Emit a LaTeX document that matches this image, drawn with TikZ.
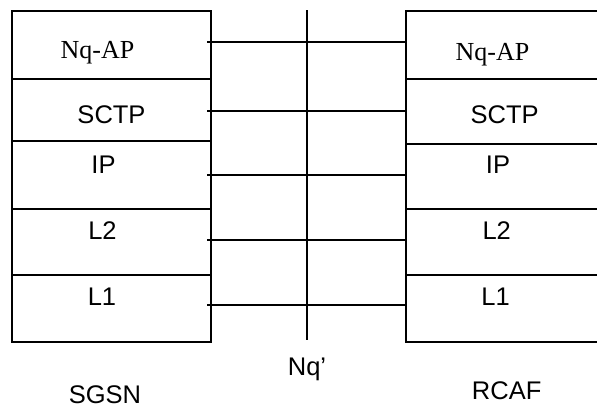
\documentclass[tikz,border=0pt]{standalone}
\usepackage{fontspec}
\setmainfont{Liberation Sans}
\newfontfamily\serifface{Liberation Serif}
\begin{document}
\begin{tikzpicture}[x=1pt,y=-1pt,
  cell/.style={draw,line width=2pt,rectangle,inner sep=0pt},
  lab/.style={anchor=base,inner sep=0pt,font=\fontsize{25.5}{30}\selectfont},
  slab/.style={anchor=base,inner sep=0pt,font=\serifface\fontsize{26}{30}\selectfont},
  link/.style={line width=1.6pt}]
\useasboundingbox (0,0) rectangle (597,408);
\fill[white] (0,0) rectangle (597,408);
% left stack (SGSN)
\node[cell,minimum width=199pt,minimum height=68pt] (lap) at (111.5,45) {};
\node[cell,minimum width=199pt,minimum height=62pt] (lsctp) at (111.5,110) {};
\node[cell,minimum width=199pt,minimum height=68pt] (lip) at (111.5,175) {};
\node[cell,minimum width=199pt,minimum height=66pt] (ll2) at (111.5,242) {};
\node[cell,minimum width=199pt,minimum height=67pt] (ll1) at (111.5,308.5) {};
% right stack (RCAF), right edge beyond the page
\node[cell,minimum width=196pt,minimum height=68pt] (rap) at (504,45) {};
\node[cell,minimum width=196pt,minimum height=65pt] (rsctp) at (504,111.5) {};
\node[cell,minimum width=196pt,minimum height=65pt] (rip) at (504,176.5) {};
\node[cell,minimum width=196pt,minimum height=66pt] (rl2) at (504,242) {};
\node[cell,minimum width=196pt,minimum height=67pt] (rl1) at (504,308.5) {};
% labels
\node[slab] (tlap) at (97.5,58) {Nq-AP};
\node[slab] (trap) at (492.5,60) {Nq-AP};
\node[lab] (tlsctp) at (111.5,123) {SCTP};
\node[lab] (trsctp) at (504.7,123) {SCTP};
\node[lab] (tlip) at (103.5,173.3) {IP};
\node[lab] (trip) at (498,173) {IP};
\node[lab] (tll2) at (102.5,239) {L2};
\node[lab] (trl2) at (496.7,239) {L2};
\node[lab] (tll1) at (102,305.7) {L1};
\node[lab] (trl1) at (495.5,305) {L1};
\node[lab] (sgsn) at (105,403.5) {SGSN};
\node[lab] (nq) at (307,375.7) {Nq’};
\node[lab] (rcaf) at (506.7,399.3) {RCAF};
% interface line
\coordinate (vtop) at (307,10);
\coordinate (vbot) at (307,340);
\draw[link] (vtop) -- (vbot);
% peer connectors
\coordinate (c1a) at (207,42); \coordinate (c1b) at (rap.west |- 0,42);
\coordinate (c2a) at (207,111); \coordinate (c2b) at (rsctp.west |- 0,111);
\coordinate (c3a) at (207,175); \coordinate (c3b) at (rip.west |- 0,175);
\coordinate (c4a) at (207,240); \coordinate (c4b) at (rl2.west |- 0,240);
\coordinate (c5a) at (207,305); \coordinate (c5b) at (rl1.west |- 0,305);
\draw[link] (c1a) -- (c1b);
\draw[link] (c2a) -- (c2b);
\draw[link] (c3a) -- (c3b);
\draw[link] (c4a) -- (c4b);
\draw[link] (c5a) -- (c5b);
\end{tikzpicture}
\end{document}
